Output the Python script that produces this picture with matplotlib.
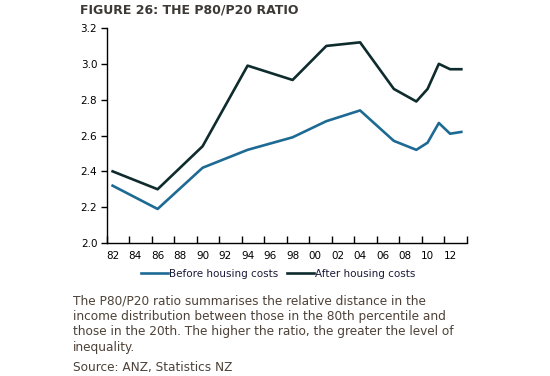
import matplotlib
matplotlib.use("Agg")
import matplotlib.pyplot as plt
from matplotlib.ticker import FixedLocator, FormatStrFormatter

years = [1982, 1986, 1990, 1994, 1998, 2001, 2004, 2007, 2009, 2010, 2011, 2012, 2013]
before = [2.32, 2.19, 2.42, 2.52, 2.59, 2.68, 2.74, 2.57, 2.52, 2.56, 2.67, 2.61, 2.62]
after = [2.40, 2.30, 2.54, 2.99, 2.91, 3.10, 3.12, 2.86, 2.79, 2.86, 3.00, 2.97, 2.97]
label_years = list(range(1982, 2013, 2))
tick_labels = [f"{y % 100:02d}" for y in label_years]
yticks = [2.0, 2.2, 2.4, 2.6, 2.8, 3.0, 3.2]

title = "FIGURE 26: THE P80/P20 RATIO"
note = ("The P80/P20 ratio summarises the relative distance in the\n"
        "income distribution between those in the 80th percentile and\n"
        "those in the 20th. The higher the ratio, the greater the level of\n"
        "inequality.")
source = "Source: ANZ, Statistics NZ"

plt.rcParams['font.family'] = ['DejaVu Sans']
fig = plt.figure(figsize=(5.5, 3.76), dpi=100)
ax = fig.add_axes([0.1945, 0.3537, 0.849 - 0.1945, 0.9255 - 0.3537])

c_before = '#1d6a94'
c_after = '#0e2b2d'
ax.plot(years, before, color=c_before, lw=1.9, label="Before housing costs")
ax.plot(years, after, color=c_after, lw=1.9, label="After housing costs")

ax.set_xlim(1981.5, 2013.5)
ax.set_ylim(2.0, 3.2)
ax.set_yticks(yticks)
ax.yaxis.set_major_formatter(FormatStrFormatter('%.1f'))
ax.xaxis.set_major_locator(FixedLocator([y + 0.5 for y in range(1981, 2014, 2)]))
ax.set_xticklabels([])
ax.xaxis.set_minor_locator(FixedLocator(label_years))
ax.set_xticklabels(tick_labels, minor=True)
ax.tick_params(axis='x', which='major', direction='in', length=5, width=1, color='black')
ax.tick_params(axis='x', which='minor', length=0, pad=6, labelsize=7.5, labelcolor='black')
ax.tick_params(axis='y', direction='out', length=4, width=1, labelsize=7.5, pad=3)
for s in ['top', 'right']:
    ax.spines[s].set_visible(False)
for s in ['left', 'bottom']:
    ax.spines[s].set_color('black')
    ax.spines[s].set_linewidth(1)

fig.legend(loc='center', bbox_to_anchor=(278 / 550, 1 - 274 / 376), ncol=2,
           frameon=False, fontsize=7.5, handlelength=2.6, handletextpad=0.1,
           columnspacing=0.8, labelcolor='#1a1a3a')

fig.text(80 / 550, 1 - 10 / 376, title, fontsize=9, fontweight='bold',
         color='#3d3a35', va='center', ha='left')
fig.text(73 / 550, 1 - 295 / 376, note, fontsize=8.75, color='#4d4238',
         va='top', ha='left', linespacing=1.22)
fig.text(73 / 550, 1 - 367 / 376, source, fontsize=8.75, color='#4d4238',
         va='center', ha='left')

fig.savefig('out.png', dpi=100)
